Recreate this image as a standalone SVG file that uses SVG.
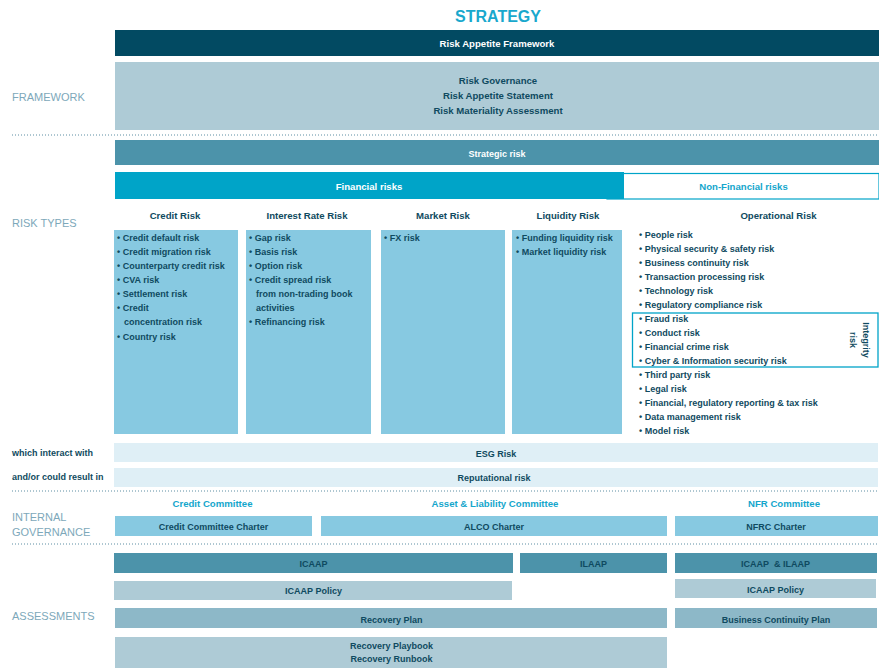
<svg xmlns="http://www.w3.org/2000/svg" width="879" height="668" viewBox="0 0 879 668">
<style>
text{font-family:"Liberation Sans",Arial,sans-serif;font-weight:bold;fill:#0f4a60;font-size:9px}
.c{text-anchor:middle}
.h{font-size:9.6px}
.w{fill:#ffffff}
.lab{font-weight:normal;font-size:11px;fill:#7da8ba}
.cy{fill:#14a6cc}
.dot{stroke:#5d8ea3;stroke-width:1;stroke-dasharray:1 2}
.dark{fill:#024a62}
.pale{fill:#aecbd6}
.mid{fill:#4c93aa}
.fin{fill:#00a4c8}
.col{fill:#87c9e1}
.xpale{fill:#dfeff6}
.rec{fill:#8db8c8}
</style>

<g id="title"><text class="c" x="498" y="22" style="font-size:16px;fill:#19a8cd">STRATEGY</text></g>

<g id="separators">
<line class="dot" x1="12" y1="135" x2="879" y2="135"/>
<line class="dot" x1="12" y1="491" x2="879" y2="491"/>
<line class="dot" x1="12" y1="544" x2="879" y2="544"/>
</g>

<g id="side-labels">
<text class="lab" x="12" y="101">FRAMEWORK</text>
<text class="lab" x="12" y="227">RISK TYPES</text>
<text class="lab" x="12" y="521">INTERNAL</text>
<text class="lab" x="12" y="536">GOVERNANCE</text>
<text class="lab" x="12" y="620">ASSESSMENTS</text>
<text x="12" y="455.5">which interact with</text>
<text x="12" y="479.5">and/or could result in</text>
</g>

<g id="risk-appetite-framework">
<rect class="dark" x="115" y="30" width="764" height="26"/>
<text class="c w h" x="497" y="46.5">Risk Appetite Framework</text>
</g>

<g id="framework">
<rect class="pale" x="115" y="62" width="764" height="68"/>
<text class="c h" x="498" y="83.5">Risk Governance</text>
<text class="c h" x="498" y="98.5">Risk Appetite Statement</text>
<text class="c h" x="498" y="113.5">Risk Materiality Assessment</text>
</g>

<g id="strategic-risk">
<rect class="mid" x="115" y="140" width="764" height="25"/>
<text class="c w" x="497" y="157">Strategic risk</text>
</g>

<g id="non-financial-risks">
<rect x="607" y="173.5" width="272" height="25.5" fill="#ffffff" stroke="#00a4c8" stroke-width="1.2"/>
<text class="c cy h" x="743.5" y="190">Non-Financial risks</text>
</g>

<g id="financial-risks">
<rect class="fin" x="115" y="172" width="509" height="27"/>
<text class="c w h" x="369" y="190">Financial risks</text>
</g>

<g id="credit-risk">
<text class="c h" x="175" y="219">Credit Risk</text>
<rect class="col" x="114" y="230" width="124" height="204"/>
<text x="117" y="241">• Credit default risk</text>
<text x="117" y="255">• Credit migration risk</text>
<text x="117" y="269">• Counterparty credit risk</text>
<text x="117" y="283">• CVA risk</text>
<text x="117" y="297">• Settlement risk</text>
<text x="117" y="311">• Credit</text>
<text x="124" y="325">concentration risk</text>
<text x="117" y="340">• Country risk</text>
</g>

<g id="interest-rate-risk">
<text class="c h" x="307" y="219">Interest Rate Risk</text>
<rect class="col" x="246" y="230" width="125" height="204"/>
<text x="249" y="241">• Gap risk</text>
<text x="249" y="255">• Basis risk</text>
<text x="249" y="269">• Option risk</text>
<text x="249" y="283">• Credit spread risk</text>
<text x="256" y="297">from non-trading book</text>
<text x="256" y="311">activities</text>
<text x="249" y="325">• Refinancing risk</text>
</g>

<g id="market-risk">
<text class="c h" x="443" y="219">Market Risk</text>
<rect class="col" x="381" y="230" width="124" height="204"/>
<text x="384" y="241">• FX risk</text>
</g>

<g id="liquidity-risk">
<text class="c h" x="568" y="219">Liquidity Risk</text>
<rect class="col" x="512" y="230" width="110" height="204"/>
<text x="516" y="241">• Funding liquidity risk</text>
<text x="516" y="255">• Market liquidity risk</text>
</g>

<g id="operational-risk">
<text class="c h" x="778.5" y="219">Operational Risk</text>
<text x="639" y="237.5">• People risk</text>
<text x="639" y="251.5">• Physical security &amp; safety risk</text>
<text x="639" y="265.5">• Business continuity risk</text>
<text x="639" y="279.5">• Transaction processing risk</text>
<text x="639" y="293.5">• Technology risk</text>
<text x="639" y="307.5">• Regulatory compliance risk</text>
<text x="639" y="321.5">• Fraud risk</text>
<text x="639" y="335.5">• Conduct risk</text>
<text x="639" y="349.5">• Financial crime risk</text>
<text x="639" y="363.5">• Cyber &amp; Information security risk</text>
<text x="639" y="377.5">• Third party risk</text>
<text x="639" y="391.5">• Legal risk</text>
<text x="639" y="405.5">• Financial, regulatory reporting &amp; tax risk</text>
<text x="639" y="419.5">• Data management risk</text>
<text x="639" y="433.5">• Model risk</text>
</g>

<g id="integrity-risk">
<rect x="632.5" y="313" width="245.5" height="54" fill="none" stroke="#00a4c8" stroke-width="1.3"/>
<g transform="translate(863,340) rotate(90)">
<text class="c" x="0" y="0">Integrity</text>
<text class="c" x="0" y="13">risk</text>
</g>
</g>

<g id="esg-risk">
<rect class="xpale" x="114" y="443" width="764" height="19"/>
<text class="c" x="496" y="456.5">ESG Risk</text>
</g>

<g id="reputational-risk">
<rect class="xpale" x="114" y="468" width="764" height="19"/>
<text class="c" x="494" y="480.5">Reputational risk</text>
</g>

<g id="credit-committee">
<text class="c cy h" x="212.5" y="507">Credit Committee</text>
<rect class="col" x="115" y="516" width="197" height="20"/>
<text class="c" x="213.5" y="530">Credit Committee Charter</text>
</g>

<g id="alco">
<text class="c cy h" x="495" y="507">Asset &amp; Liability Committee</text>
<rect class="col" x="321" y="516" width="346" height="20"/>
<text class="c" x="494" y="530">ALCO Charter</text>
</g>

<g id="nfr-committee">
<text class="c cy h" x="784" y="507">NFR Committee</text>
<rect class="col" x="675" y="516" width="203" height="20"/>
<text class="c" x="776" y="530">NFRC Charter</text>
</g>

<g id="icaap">
<rect class="mid" x="114" y="553" width="399" height="20"/>
<text class="c" x="313.5" y="566.5">ICAAP</text>
</g>
<g id="ilaap">
<rect class="mid" x="520" y="553" width="147" height="20"/>
<text class="c" x="593.5" y="566.5">ILAAP</text>
</g>
<g id="icaap-ilaap">
<rect class="mid" x="675" y="553" width="202" height="20"/>
<text class="c" x="775.5" y="566.5" xml:space="preserve">ICAAP  &amp; ILAAP</text>
</g>

<g id="icaap-policy-left">
<rect class="pale" x="114" y="581" width="398" height="19"/>
<text class="c" x="313.5" y="594">ICAAP Policy</text>
</g>
<g id="icaap-policy-right">
<rect class="pale" x="675" y="579" width="201" height="19"/>
<text class="c" x="775.5" y="593">ICAAP Policy</text>
</g>

<g id="recovery-plan">
<rect class="rec" x="115" y="608" width="552" height="20"/>
<text class="c" x="391.5" y="622.5">Recovery Plan</text>
</g>
<g id="business-continuity-plan">
<rect class="rec" x="675" y="608" width="202" height="20"/>
<text class="c" x="776" y="622.5">Business Continuity Plan</text>
</g>

<g id="recovery-playbook">
<rect class="pale" x="115" y="637" width="552" height="31"/>
<text class="c" x="391.5" y="648.5">Recovery Playbook</text>
<text class="c" x="391.5" y="662">Recovery Runbook</text>
</g>
</svg>
